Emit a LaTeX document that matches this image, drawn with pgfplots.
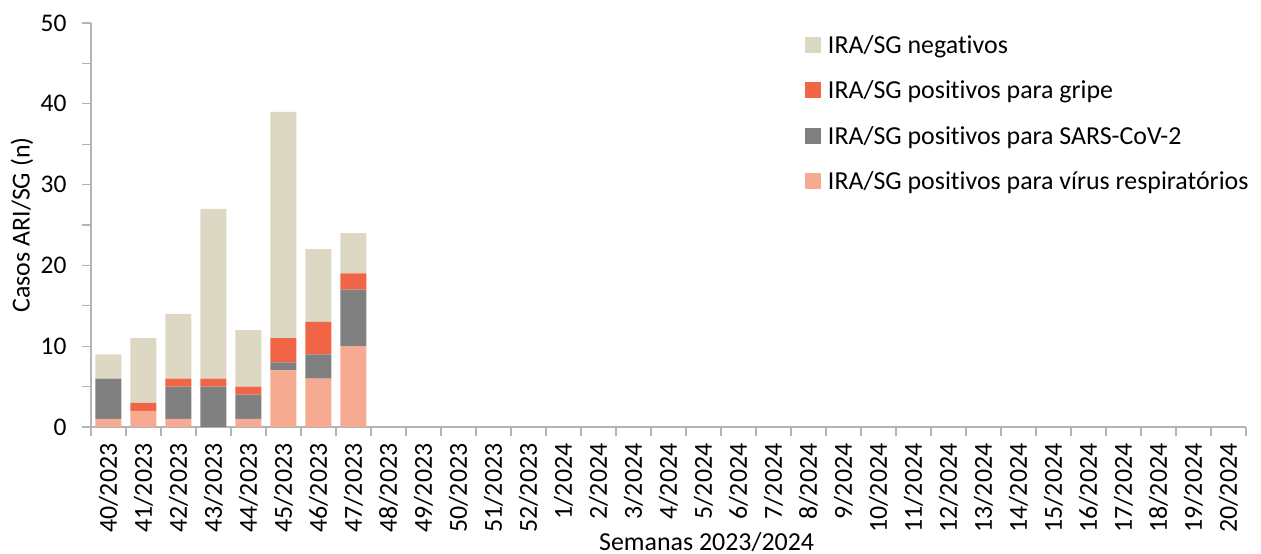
\documentclass[border=0pt]{standalone}
\usepackage{pgfplots}
\pgfplotsset{compat=1.18}
\usepackage{fontspec}
\setmainfont{Carlito}[Ligatures=NoCommon]
\definecolor{cneg}{HTML}{DDD8C4}
\definecolor{cgri}{HTML}{F06545}
\definecolor{ccov}{HTML}{808080}
\definecolor{cres}{HTML}{F5AA91}
\definecolor{caxis}{HTML}{B4B4B4}
\begin{document}
\begin{tikzpicture}
\begin{axis}[
  scale only axis, width=1155bp, height=404bp,
  ybar stacked, bar width=26bp,
  xmin=-0.5, xmax=32.5, ymin=0, ymax=50,
  axis x line*=bottom, axis y line*=left,
  axis line style={caxis, line width=1.2bp},
  every tick/.style={caxis, line width=1.2bp},
  tick align=outside,
  xtick={0,...,32},
  xticklabels={40/2023,41/2023,42/2023,43/2023,44/2023,45/2023,46/2023,47/2023,48/2023,49/2023,50/2023,51/2023,52/2023,1/2024,2/2024,3/2024,4/2024,5/2024,6/2024,7/2024,8/2024,9/2024,10/2024,11/2024,12/2024,13/2024,14/2024,15/2024,16/2024,17/2024,18/2024,19/2024,20/2024},
  major x tick style={draw=none},
  minor xtick={-0.5,0.5,...,32.5},
  minor tick length=9bp, major tick length=9bp,
  x tick label style={rotate=90, anchor=east, font=\fontsize{26}{31}\selectfont},
  xticklabel shift=4bp,
  ytick={0,10,...,50}, minor ytick={5,15,...,45},
  y tick label style={font=\fontsize{25.5}{30}\selectfont},
  yticklabel shift=12bp,
  /pgf/number format/assume math mode=true,
  ylabel={Casos ARI/SG (n)},
  ylabel style={font=\fontsize{26}{31}\selectfont, at={(axis description cs:-0.0597,0.5)}, anchor=center},
  xlabel={Semanas 2023/2024},
  xlabel style={font=\fontsize{26}{31}\selectfont, at={(axis description cs:0.533,0)}, anchor=base, yshift=-123bp},
  legend style={draw=none, fill=none, at={(rel axis cs:0.618,0.975)}, anchor=north west,
    font=\fontsize{26}{31}\selectfont, row sep=22bp, inner sep=0pt,
    nodes={inner xsep=7bp}},
  legend cell align=left,
  reverse legend,
  legend image code/.code={\fill[#1] (0bp,-8bp) rectangle (16bp,8bp);},
]
\addplot[fill=cres, draw=none] coordinates {(0,1) (1,2) (2,1) (3,0) (4,1) (5,7) (6,6) (7,10)};
\addlegendentry{IRA/SG positivos para vírus respiratórios}
\addplot[fill=ccov, draw=none] coordinates {(0,5) (1,0) (2,4) (3,5) (4,3) (5,1) (6,3) (7,7)};
\addlegendentry{IRA/SG positivos para SARS-CoV-2}
\addplot[fill=cgri, draw=none] coordinates {(0,0) (1,1) (2,1) (3,1) (4,1) (5,3) (6,4) (7,2)};
\addlegendentry{IRA/SG positivos para gripe}
\addplot[fill=cneg, draw=none] coordinates {(0,3) (1,8) (2,8) (3,21) (4,7) (5,28) (6,9) (7,5)};
\addlegendentry{IRA/SG negativos}
\end{axis}
\pgfresetboundingbox
\path[use as bounding box] (-91bp,-127bp) rectangle (1170bp,427bp);
\end{tikzpicture}
\end{document}
